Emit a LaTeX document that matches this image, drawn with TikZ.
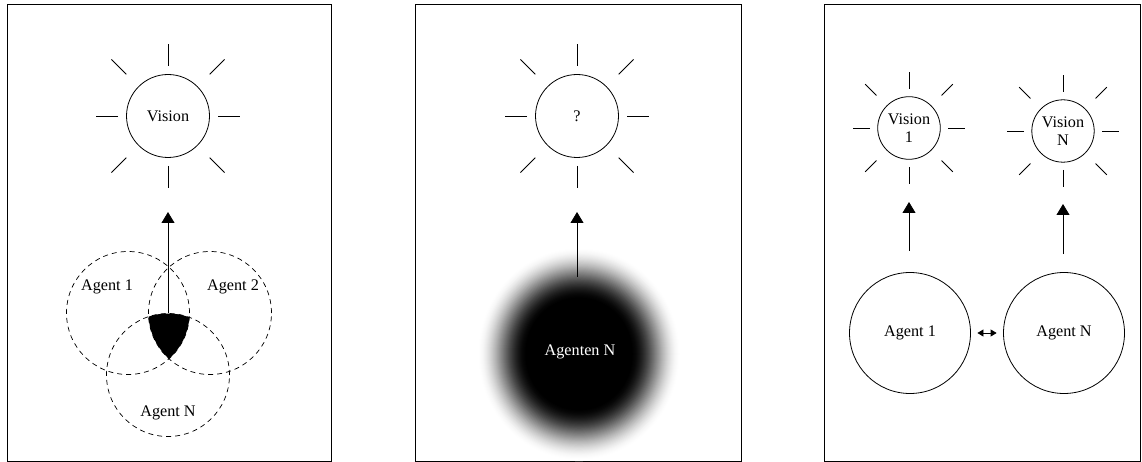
\documentclass[tikz,border=0pt]{standalone}
\usepackage{fontspec}
\setmainfont{Liberation Serif}
\usetikzlibrary{arrows.meta,calc}
\newcommand\sunrays[5]{%
  \foreach \a in {0,90,180,270}
    \draw[ray] ($(#1.center)+(\a:#2)$) -- ($(#1.center)+(\a:#3)$);
  \foreach \a in {45,135,225,315}
    \draw[ray] ($(#1.center)+(\a:#4)$) -- ($(#1.center)+(\a:#5)$);}
\begin{document}
\begin{tikzpicture}[x=1pt,y=-1pt,
  font=\fontsize{16.2}{18}\selectfont,
  frame/.style={draw, line width=0.8pt},
  ray/.style={line width=0.8pt},
  vis/.style={circle, draw, line width=0.8pt, inner sep=0pt, align=center},
  agentd/.style={circle, draw, dash pattern=on 5pt off 4pt, line width=0.7pt, minimum size=123pt, inner sep=0pt},
  agents/.style={circle, draw, line width=0.8pt, minimum size=121pt, inner sep=0pt},
  upar/.style={line width=0.8pt, -{Triangle[length=11pt,width=13pt]}},
  dblar/.style={line width=0.8pt, {Triangle[length=6pt,width=7pt]}-{Triangle[length=6pt,width=7pt]}, shorten <=6.5pt, shorten >=6.5pt}]
\useasboundingbox (0,0) rectangle (1142,462);

% frames
\draw[frame] (7,4) rectangle (331,461);
\draw[frame] (415,4) rectangle (741,461);
\draw[frame] (824,4) rectangle (1140,461);

% ---- panel 1
\node[vis, minimum size=83pt] (v1) at (168,116) {Vision};
\sunrays{v1}{50pt}{72pt}{59pt}{80pt}
\node[agentd] (a1) at (128,313) {};
\node[agentd] (a2) at (210,313) {};
\node[agentd] (an) at (168,375) {};
\begin{scope}
  \clip (128,313) circle[radius=61.5pt];
  \clip (210,313) circle[radius=61.5pt];
  \fill (168,375) circle[radius=61.5pt];
\end{scope}
\node (l1) at (107,287) {Agent 1};
\node (l2) at (233,287) {Agent 2};
\node (ln) at (168,413) {Agent N};
\coordinate (p1s) at (168,313);
\coordinate (p1e) at (168,212);
\draw[upar] (p1s) -- (p1e);

% ---- panel 2
\node[vis, minimum size=83pt] (v2) at (577,116) {?};
\sunrays{v2}{50pt}{72pt}{59pt}{80pt}
\foreach \r in {102,101,...,52}{
  \pgfmathsetmacro\t{(102-\r)/50}
  \pgfmathsetmacro\p{100*(3*\t*\t-2*\t*\t*\t)}
  \fill[black!\p] (579,354) ellipse[x radius=\r pt, y radius=1.05*\r pt];
}
\fill[black] (579,354) ellipse[x radius=52pt, y radius=54.6pt];
\node[text=white] (ag) at (580,352) {Agenten N};
\coordinate (p2s) at (577,277);
\coordinate (p2e) at (577,212);
\draw[upar] (p2s) -- (p2e);

% ---- panel 3
\node[vis, minimum size=62.6pt] (v31) at (909,128) {Vision\\1};
\sunrays{v31}{39pt}{56pt}{46pt}{62pt}
\node[vis, minimum size=62.4pt] (v3n) at (1063,131) {Vision\\N};
\sunrays{v3n}{39pt}{56pt}{46pt}{62pt}
\node[agents] (b1) at (910,333) {Agent 1};
\node[agents] (bn) at (1064,333) {Agent N};
\coordinate (q1s) at (909,251);
\coordinate (q1e) at (909,202);
\coordinate (qns) at (1063,254);
\coordinate (qne) at (1063,204);
\draw[upar] (q1s) -- (q1e);
\draw[upar] (qns) -- (qne);
\draw[dblar] (b1) -- (bn);
\end{tikzpicture}
\end{document}
